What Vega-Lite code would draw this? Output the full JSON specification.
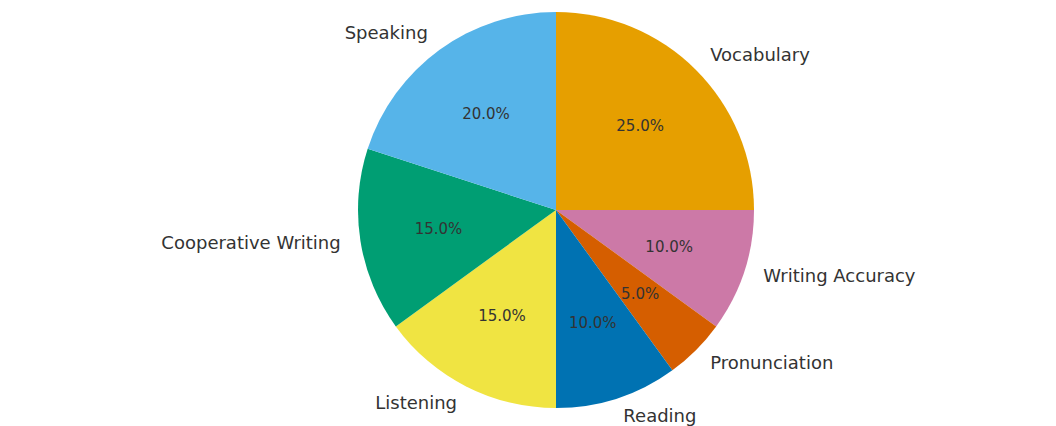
{
  "$schema": "https://vega.github.io/schema/vega-lite/v6.json",
  "autosize": "none",
  "width": 1000,
  "height": 420,
  "padding": {"left": 56, "top": 0, "right": 0, "bottom": 6},
  "background": "white",
  "config": {"view": {"stroke": null}},
  "data": {
    "values": [
      {"skill": "Vocabulary", "value": 25},
      {"skill": "Writing Accuracy", "value": 10},
      {"skill": "Pronunciation", "value": 5},
      {"skill": "Reading", "value": 10},
      {"skill": "Listening", "value": 15},
      {"skill": "Cooperative Writing", "value": 15},
      {"skill": "Speaking", "value": 20}
    ]
  },
  "transform": [
    {"window": [{"op": "row_number", "as": "idx"}]},
    {"joinaggregate": [{"op": "sum", "field": "value", "as": "total"}]},
    {"calculate": "format(datum.value / datum.total * 100, '.1f') + '%'", "as": "pct"}
  ],
  "encoding": {
    "theta": {"field": "value", "type": "quantitative", "stack": true},
    "order": {"field": "idx", "type": "quantitative"}
  },
  "layer": [
    {
      "mark": {"type": "arc", "outerRadius": 198},
      "encoding": {
        "color": {
          "field": "skill",
          "type": "nominal",
          "legend": null,
          "scale": {
            "domain": ["Vocabulary", "Writing Accuracy", "Pronunciation", "Reading", "Listening", "Cooperative Writing", "Speaking"],
            "range": ["#E69F00", "#CC79A7", "#D55E00", "#0072B2", "#F0E442", "#009E73", "#56B4E9"]
          }
        }
      }
    },
    {
      "mark": {"type": "text", "radius": 119, "align": "center", "baseline": "middle", "font": "DejaVu Sans", "fontSize": 15, "color": "#333333"},
      "encoding": {"text": {"field": "pct"}}
    },
    {
      "mark": {"type": "text", "radius": 218, "align": "left", "baseline": "middle", "font": "DejaVu Sans", "fontSize": 18, "color": "#333333"},
      "encoding": {"text": {"condition": {"test": "indexof(['Vocabulary','Writing Accuracy','Pronunciation','Reading'], datum.skill) >= 0", "field": "skill"}, "value": ""}}
    },
    {
      "mark": {"type": "text", "radius": 218, "align": "right", "baseline": "middle", "font": "DejaVu Sans", "fontSize": 18, "color": "#333333"},
      "encoding": {"text": {"condition": {"test": "indexof(['Listening','Cooperative Writing','Speaking'], datum.skill) >= 0", "field": "skill"}, "value": ""}}
    }
  ]
}
